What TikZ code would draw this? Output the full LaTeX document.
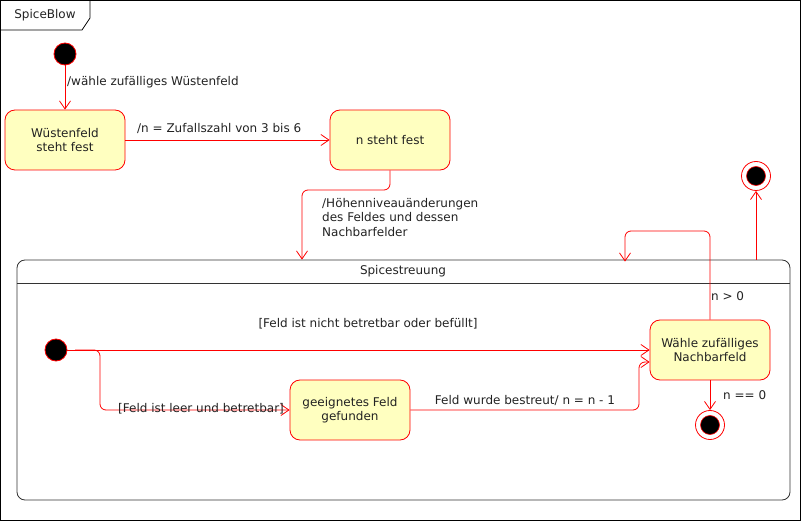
\documentclass[tikz,border=0pt]{standalone}
\usepackage{fontspec}
\setmainfont{DejaVu Sans}
\usetikzlibrary{arrows.meta}
\definecolor{yfill}{HTML}{FFFFC0}
\definecolor{txt}{HTML}{222222}
\newcommand{\fs}{\fontsize{12}{14.5}\selectfont}
\tikzset{
  stbox/.style={draw=red, fill=yfill, rounded corners=10pt, minimum width=120pt, minimum height=60pt, align=center, font=\fs, text=txt, inner sep=2pt, line width=0.8pt},
  initst/.style={circle, draw=red, fill=black, minimum size=22pt, inner sep=0pt, line width=0.8pt},
  finalst/.style={circle, draw=red, fill=white, minimum size=29pt, inner sep=0pt, line width=0.8pt},
  trans/.style={draw=red, line width=0.8pt, rounded corners=6pt, -{Straight Barb[length=8pt,width=11pt,line width=0.8pt]}},
  lbl/.style={font=\fs, text=txt, inner sep=0pt, align=left},
}
\begin{document}
\begin{tikzpicture}[x=1pt,y=-1pt]
\useasboundingbox (0,0) rectangle (801,521);
% outer frame
\draw[line width=0.8pt] (0.5,0.5) rectangle (800.5,520.5);
\draw[line width=0.8pt] (0.5,30) -- (82,30) -- (90,18) -- (90,0.5);
\node[lbl] (title) at (45,15) {SpiceBlow};

% top states
\node[initst] (i1) at (65,54) {};
\node[stbox] (wf) at (65,140) {Wüstenfeld\\steht fest};
\node[stbox] (nf) at (390,140) {n steht fest};

% composite
\node[draw=black!80, line width=0.8pt, rounded corners=8pt, minimum width=773pt, minimum height=240pt, inner sep=0pt] (sp) at (403.5,380) {};
\draw[black!80, line width=0.8pt] (sp.west |- 0,283) -- (sp.east |- 0,283);
\node[lbl] (sptitle) at (403,271) {Spicestreuung};

\node[initst] (i2) at (56,350) {};
\node[stbox] (gf) at (350,410) {geeignetes Feld\\gefunden};
\node[stbox] (wz) at (710,350) {Wähle zufälliges\\Nachbarfeld};
\node[finalst] (f2) at (710,425) {};
\filldraw[draw=red, fill=black, line width=0.6pt] (f2.center) circle (9.5pt);
\node[finalst] (f1) at (756,176) {};
\filldraw[draw=red, fill=black, line width=0.6pt] (f1.center) circle (9.5pt);

% transitions
\draw[trans] (i1) -- (wf.north);
\node[lbl, anchor=west] (l1) at (67,82) {/wähle zufälliges Wüstenfeld};

\draw[trans] (wf.east) -- (nf.west);
\node[lbl, anchor=west] (l2) at (137,129) {/n = Zufallszahl von 3 bis 6};

\coordinate (c0) at (302,190);
\draw[trans] (nf.south) -- (nf.south |- c0) -- (c0) -- (c0 |- sp.north);
\node[lbl, anchor=north west] (l3) at (322,198) {/Höhenniveauänderungen\\des Feldes und dessen\\Nachbarfelder};

\draw[trans] (i2.east) -- (wz.west |- i2.east);
\node[lbl] (l4) at (368,324) {[Feld ist nicht betretbar oder befüllt]};

\coordinate (c1) at (100,350);
\draw[trans] (c1) ++(-25,0) -- (c1) -- (c1 |- gf.west) -- (gf.west);
\node[lbl, anchor=west] (l5) at (118,409) {[Feld ist leer und betretbar]};

\coordinate (c2) at (639,362);
\draw[trans] (gf.east) -- (c2 |- gf.east) -- (c2) -- (c2 -| wz.west);
\node[lbl] (l6) at (525,400) {Feld wurde bestreut/ n = n - 1};

\coordinate (c3) at (625,231);
\draw[trans] (wz.north) -- (wz.north |- c3) -- (c3) -- ([yshift=-2pt]c3 |- sp.north);
\node[lbl, anchor=west] (l7) at (711,296) {n > 0};

\draw[trans] (wz.south) -- (f2.north);
\node[lbl, anchor=west] (l8) at (723,395) {n == 0};

\draw[trans] (sp.north -| f1.south) -- (f1.south);
\end{tikzpicture}
\end{document}
